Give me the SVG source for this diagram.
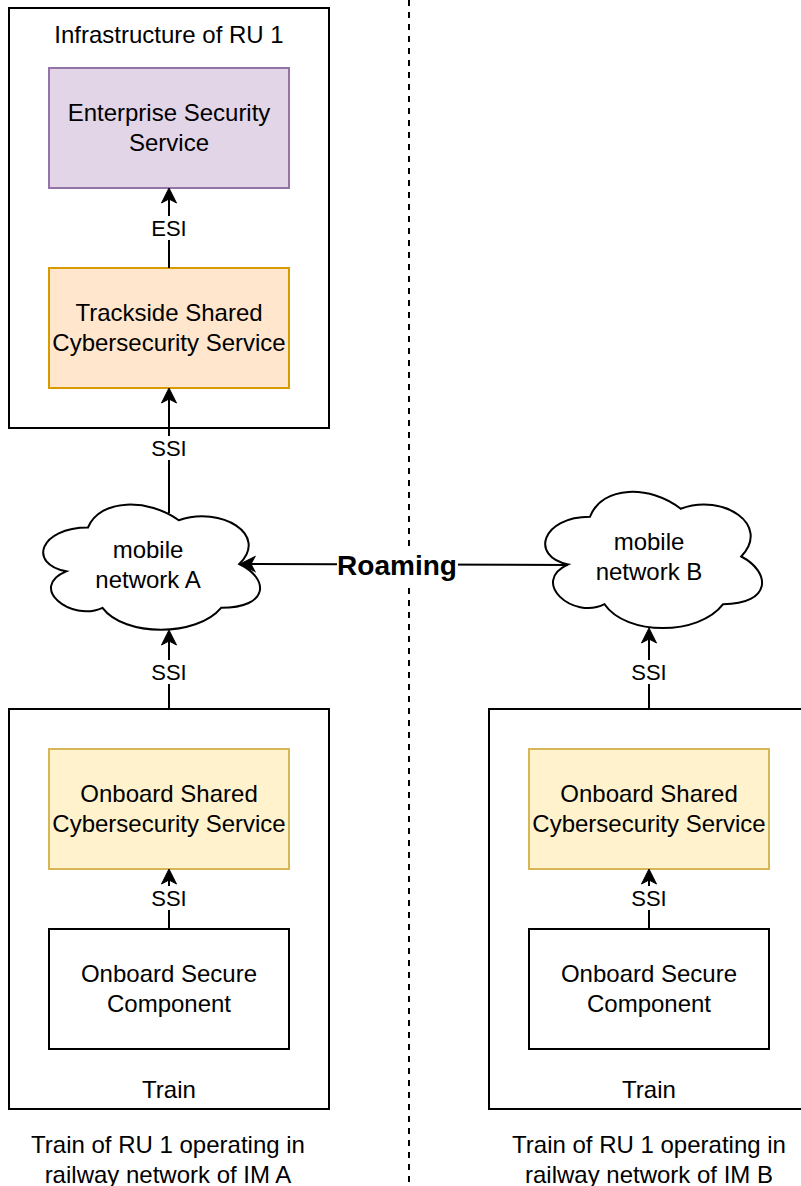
<svg xmlns="http://www.w3.org/2000/svg" width="801" height="1186" viewBox="0 0 801 1186">
<style>
text{font-family:"Liberation Sans",Arial,sans-serif;fill:#000;text-anchor:middle}
.t{font-size:24px}
.l{font-size:22px}
.r{font-size:28px;font-weight:bold}
.box{fill:#fff;stroke:#000;stroke-width:2}
.ess{fill:#e1d5e7;stroke:#9673a6;stroke-width:2}
.tss{fill:#ffe6cc;stroke:#d79b00;stroke-width:2}
.oss{fill:#fff2cc;stroke:#d6b656;stroke-width:2}
.cloud{fill:#fff;stroke:#000;stroke-width:2}
.edge{fill:none;stroke:#000;stroke-width:2;marker-end:url(#arr)}
.bg{fill:#fff}
</style>
<defs>
<marker id="arr" markerUnits="userSpaceOnUse" viewBox="-18 -10 22 20" markerWidth="22" markerHeight="20" refX="-3" refY="0" orient="auto">
<path d="M0,0 L-15,-7.5 L-11,0 L-15,7.5 Z" fill="#000" stroke="#000" stroke-width="1"/>
</marker>
</defs>
<rect width="801" height="1186" fill="#fff"/>
<line x1="409" y1="0" x2="409" y2="1186" stroke="#000" stroke-width="2" stroke-dasharray="6 6"/>

<g id="infra">
<rect class="box" x="9" y="8" width="320" height="420"/>
<text class="t" x="169" y="43">Infrastructure of RU 1</text>
</g>
<g id="ess">
<rect class="ess" x="49" y="68" width="240" height="120"/>
<text class="t" x="169" y="121">Enterprise Security</text>
<text class="t" x="169" y="151">Service</text>
</g>
<g id="tss">
<rect class="tss" x="49" y="268" width="240" height="120"/>
<text class="t" x="169" y="321">Trackside Shared</text>
<text class="t" x="169" y="351">Cybersecurity Service</text>
</g>

<g id="trainA">
<rect class="box" x="9" y="709" width="320" height="400"/>
<text class="t" x="169" y="1098">Train</text>
</g>
<g id="ossA">
<rect class="oss" x="49" y="749" width="240" height="120"/>
<text class="t" x="169" y="802">Onboard Shared</text>
<text class="t" x="169" y="832">Cybersecurity Service</text>
</g>
<g id="oscA">
<rect class="box" x="49" y="929" width="240" height="120"/>
<text class="t" x="169" y="982">Onboard Secure</text>
<text class="t" x="169" y="1012">Component</text>
</g>

<g id="trainB">
<rect class="box" x="489" y="709" width="320" height="400"/>
<text class="t" x="649" y="1098">Train</text>
</g>
<g id="ossB">
<rect class="oss" x="529" y="749" width="240" height="120"/>
<text class="t" x="649" y="802">Onboard Shared</text>
<text class="t" x="649" y="832">Cybersecurity Service</text>
</g>
<g id="oscB">
<rect class="box" x="529" y="929" width="240" height="120"/>
<text class="t" x="649" y="982">Onboard Secure</text>
<text class="t" x="649" y="1012">Component</text>
</g>

<g id="cloudA">
<path class="cloud" transform="translate(27.5,491) scale(242,146)" vector-effect="non-scaling-stroke" d="M0.25,0.25 C0.05,0.25 0,0.5 0.16,0.55 C0,0.66 0.18,0.9 0.31,0.8 C0.4,1 0.7,1 0.8,0.8 C1,0.8 1,0.6 0.875,0.5 C1,0.3 0.8,0.1 0.625,0.2 C0.5,0.05 0.3,0.05 0.25,0.25 Z"/>
<text class="t" x="148" y="558">mobile</text>
<text class="t" x="148" y="588">network A</text>
</g>
<g id="cloudB">
<path class="cloud" transform="translate(529.5,477) scale(242,159)" vector-effect="non-scaling-stroke" d="M0.25,0.25 C0.05,0.25 0,0.5 0.16,0.55 C0,0.66 0.18,0.9 0.31,0.8 C0.4,1 0.7,1 0.8,0.8 C1,0.8 1,0.6 0.875,0.5 C1,0.3 0.8,0.1 0.625,0.2 C0.5,0.05 0.3,0.05 0.25,0.25 Z"/>
<text class="t" x="649" y="550">mobile</text>
<text class="t" x="649" y="580">network B</text>
</g>

<g id="connectors">
<line class="edge" x1="169" y1="268" x2="169" y2="191"/>
<line class="edge" x1="169" y1="513" x2="169" y2="391"/>
<line class="edge" x1="169" y1="709" x2="169" y2="633"/>
<line class="edge" x1="649" y1="709" x2="649" y2="631"/>
<line class="edge" x1="169" y1="929" x2="169" y2="872"/>
<line class="edge" x1="649" y1="929" x2="649" y2="872"/>
<line class="edge" x1="568" y1="565" x2="243" y2="564"/>
<rect class="bg" x="150" y="216" width="38" height="24"/>
<text class="l" x="169" y="236">ESI</text>
<rect class="bg" x="148" y="436" width="42" height="24"/>
<text class="l" x="169" y="456">SSI</text>
<rect class="bg" x="148" y="660" width="42" height="24"/>
<text class="l" x="169" y="680">SSI</text>
<rect class="bg" x="628" y="660" width="42" height="24"/>
<text class="l" x="649" y="680">SSI</text>
<rect class="bg" x="148" y="886" width="42" height="24"/>
<text class="l" x="169" y="906">SSI</text>
<rect class="bg" x="628" y="886" width="42" height="24"/>
<text class="l" x="649" y="906">SSI</text>
<rect class="bg" x="337" y="548" width="121" height="34"/>
<text class="r" x="397" y="575">Roaming</text>
</g>

<g id="captions">
<text class="t" x="168" y="1153">Train of RU 1 operating in</text>
<text class="t" x="168" y="1183">railway network of IM A</text>
<text class="t" x="649" y="1153">Train of RU 1 operating in</text>
<text class="t" x="649" y="1183">railway network of IM B</text>
</g>
</svg>
